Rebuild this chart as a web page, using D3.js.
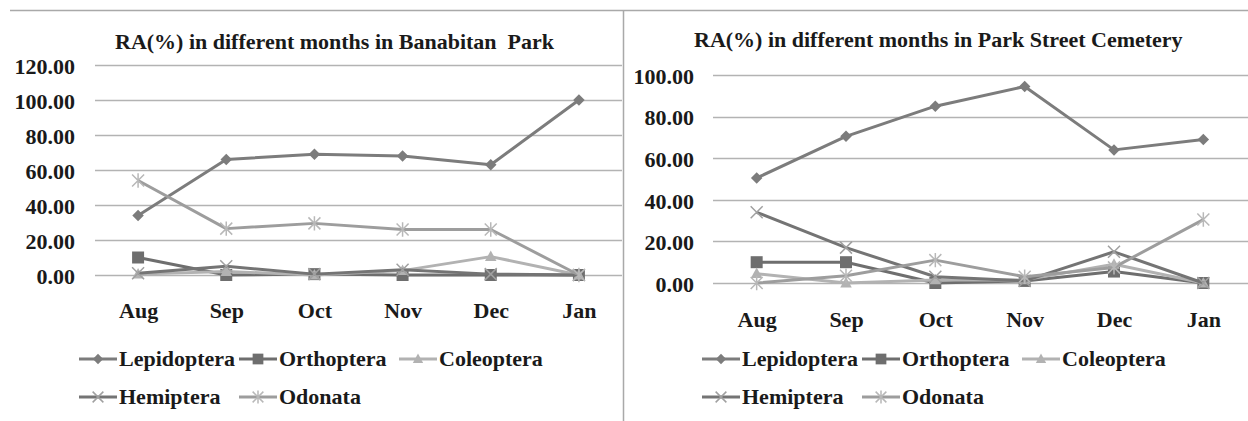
<!DOCTYPE html>
<html>
<head>
<meta charset="utf-8">
<script src="https://cdn.jsdelivr.net/npm/d3@7"></script>
<style>
  html, body { margin: 0; padding: 0; background: #ffffff; }
  svg { display: block; }
  text { font-family: "Liberation Serif", "Times New Roman", serif; font-weight: bold; fill: #1a1a1a; }
</style>
</head>
<body>
<svg id="chart" width="1248" height="421"></svg>
<script>
// ---------- DATA ----------
const months = ["Aug", "Sep", "Oct", "Nov", "Dec", "Jan"];
const seriesNames = ["Lepidoptera", "Orthoptera", "Coleoptera", "Hemiptera", "Odonata"];

const titleBanabitan = "RA(%) in different months in Banabitan  Park";
const titleParkStreet = "RA(%) in different months in Park Street Cemetery";

const banabitanTicks = [0, 20, 40, 60, 80, 100, 120];
const parkStreetTicks = [0, 20, 40, 60, 80, 100];

const banabitanLepidoptera = [34, 66, 69, 68, 63, 100];
const banabitanOrthoptera  = [10, 0, 0.5, 0, 0, 0];
const banabitanColeoptera  = [0.5, 2, 0, 2.5, 10.5, 0];
const banabitanHemiptera   = [1, 5, 0.5, 3, 0.5, 0];
const banabitanOdonata     = [54, 26.5, 29.5, 26, 26, 0];

const parkStreetLepidoptera = [50.5, 70.5, 85, 94.5, 64, 69];
const parkStreetOrthoptera  = [10, 10, 0, 1, 5.5, 0];
const parkStreetColeoptera  = [4.5, 0, 1.5, 1.5, 9, 0];
const parkStreetHemiptera   = [34, 17, 3, 1, 15, 0];
const parkStreetOdonata     = [0, 3.5, 11, 3, 7.5, 30.5];

// ---------- STYLES ----------
const r2 = s => Math.sqrt(s) / 2;
const symDiamond = { draw(c, s) { const r = r2(s) * 1.15; c.moveTo(0, -r); c.lineTo(r, 0); c.lineTo(0, r); c.lineTo(-r, 0); c.closePath(); } };
const symSquare = { draw(c, s) { const r = r2(s); c.rect(-r, -r, 2 * r, 2 * r); } };
const symTriangle = { draw(c, s) { const r = r2(s); c.moveTo(0, -r * 1.1); c.lineTo(r * 1.05, r * 0.8); c.lineTo(-r * 1.05, r * 0.8); c.closePath(); } };
const symX = { draw(c, s) { const r = r2(s); c.moveTo(-r, -r); c.lineTo(r, r); c.moveTo(r, -r); c.lineTo(-r, r); } };
const symStar = { draw(c, s) { const r = r2(s); c.moveTo(-r, -r); c.lineTo(r, r); c.moveTo(r, -r); c.lineTo(-r, r); c.moveTo(0, -r * 1.2); c.lineTo(0, r * 1.2); } };

const styles = {
  Lepidoptera: { color: "#7c7c7c", sym: symDiamond, size: 100, filled: true },
  Orthoptera:  { color: "#6e6e6e", sym: symSquare,  size: 144, filled: true },
  Coleoptera:  { color: "#b2b2b2", sym: symTriangle, size: 121, filled: true },
  Hemiptera:   { color: "#747474", sym: symX,       size: 144, filled: false, mcolor: "#a0a0a0" },
  Odonata:     { color: "#9d9d9d", sym: symStar,    size: 144, filled: false, mcolor: "#b8b8b8" }
};

const FS = "22px";
const svg = d3.select("#chart");

// frame lines
svg.append("line").attr("x1", 10).attr("x2", 1248).attr("y1", 10.5).attr("y2", 10.5)
  .attr("stroke", "#a9a9a9").attr("stroke-width", 1.5);
svg.append("line").attr("x1", 623.5).attr("x2", 623.5).attr("y1", 10).attr("y2", 421)
  .attr("stroke", "#a9a9a9").attr("stroke-width", 1.5);

function drawChart(cfg) {
  const g = svg.append("g");
  const x = d3.scalePoint().domain(months).range([cfg.plotLeft, cfg.plotRight]).padding(0.5);
  const y = d3.scaleLinear().domain([0, d3.max(cfg.ticks)]).range([cfg.y0, cfg.yTop]);

  // title
  g.append("text").attr("x", cfg.titleX).attr("y", cfg.titleY)
    .style("font-size", FS).style("white-space", "pre").attr("xml:space", "preserve").text(cfg.title);

  // gridlines
  g.append("g").selectAll("line").data(cfg.ticks).join("line")
    .attr("x1", cfg.gridLeft).attr("x2", cfg.gridRight)
    .attr("y1", d => Math.round(y(d)) + 0.5).attr("y2", d => Math.round(y(d)) + 0.5)
    .attr("stroke", "#b3b3b3").attr("stroke-width", 1.5);

  // y axis via d3 axis
  const yAxis = d3.axisLeft(y).tickValues(cfg.ticks).tickFormat(d3.format(".2f")).tickSize(0).tickPadding(0);
  const ya = g.append("g").attr("transform", `translate(${cfg.yLabelX},0)`).call(yAxis);
  ya.attr("font-family", null).attr("font-size", null);
  ya.select(".domain").remove();
  ya.selectAll("text").attr("dy", "0.38em").attr("fill", null).style("font-size", FS);

  // x axis
  const xAxis = d3.axisBottom(x).tickSize(0).tickPadding(0);
  const xa = g.append("g").attr("transform", `translate(0,${cfg.xLabelY})`).call(xAxis);
  xa.attr("font-family", null).attr("font-size", null);
  xa.select(".domain").remove();
  xa.selectAll("text").attr("dy", "0").attr("y", 0).attr("fill", null).style("font-size", FS);

  const line = d3.line().x((d, i) => x(months[i])).y(d => y(d));

  cfg.series.forEach((vals, si) => {
    const name = seriesNames[si];
    const st = styles[name];
    g.append("path").datum(vals).attr("d", line)
      .attr("fill", "none").attr("stroke", st.color).attr("stroke-width", 3)
      .attr("stroke-linejoin", "round");
    const sym = d3.symbol().type(st.sym).size(st.size);
    g.append("g").selectAll("path").data(vals).join("path")
      .attr("transform", (d, i) => `translate(${x(months[i])},${y(d)})`)
      .attr("d", sym)
      .attr("fill", st.filled ? st.color : "none")
      .attr("stroke", st.filled ? "none" : st.mcolor)
      .attr("stroke-width", st.filled ? 0 : 1.5);
  });

  // legend
  const legCols = [0, 160, 320];
  const legend = seriesNames.map((name, i) => ({
    name,
    x: cfg.legendX + legCols[i < 3 ? i : i - 3],
    y: i < 3 ? cfg.legendY1 : cfg.legendY2
  }));
  const lg = g.append("g").selectAll("g").data(legend).join("g")
    .attr("transform", d => `translate(${d.x},${d.y})`);
  lg.append("line").attr("x1", 0).attr("x2", 38).attr("y1", -7).attr("y2", -7)
    .attr("stroke", d => styles[d.name].color).attr("stroke-width", 3);
  lg.append("path").attr("transform", "translate(19,-7)")
    .attr("d", d => d3.symbol().type(styles[d.name].sym).size(styles[d.name].size * 0.8)())
    .attr("fill", d => styles[d.name].filled ? styles[d.name].color : "none")
    .attr("stroke", d => styles[d.name].filled ? "none" : styles[d.name].mcolor)
    .attr("stroke-width", 1.5);
  lg.append("text").attr("x", 40).attr("y", 0).style("font-size", FS).text(d => d.name);
}

drawChart({
  title: titleBanabitan, titleX: 115, titleY: 49,
  ticks: banabitanTicks,
  plotLeft: 94, plotRight: 623, gridLeft: 95, gridRight: 622,
  y0: 275, yTop: 65, yLabelX: 75, xLabelY: 318,
  legendX: 79, legendY1: 366, legendY2: 404,
  series: [banabitanLepidoptera, banabitanOrthoptera, banabitanColeoptera, banabitanHemiptera, banabitanOdonata]
});

drawChart({
  title: titleParkStreet, titleX: 694, titleY: 47,
  ticks: parkStreetTicks,
  plotLeft: 712, plotRight: 1248, gridLeft: 713, gridRight: 1248,
  y0: 283, yTop: 75, yLabelX: 694, xLabelY: 327,
  legendX: 702, legendY1: 366, legendY2: 404,
  series: [parkStreetLepidoptera, parkStreetOrthoptera, parkStreetColeoptera, parkStreetHemiptera, parkStreetOdonata]
});
</script>
</body>
</html>
